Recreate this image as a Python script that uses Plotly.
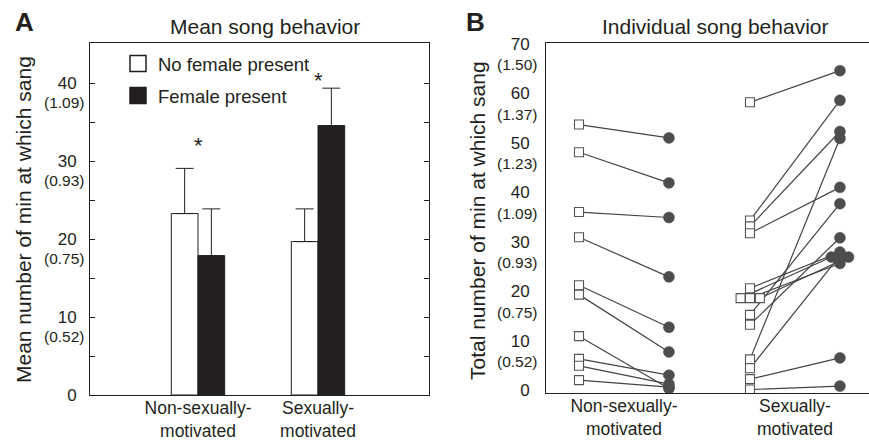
import plotly.graph_objects as go

# ---------------- data ----------------
categories = ["Non-sexually-<br>motivated", "Sexually-<br>motivated"]
mean_no_female = [23.3, 19.7]
err_no_female = [5.8, 4.2]
mean_female = [17.9, 34.6]
err_female = [6.0, 4.8]
star_y = [32.7, 41.0]

a_tick_vals = [0, 5, 10, 15, 20, 25, 30, 35, 40]
a_tick_text = ["0", "", "10", "", "20", "", "30", "", "40"]
a_paren_vals = [10, 20, 30, 40]
a_paren_text = ["(0.52)", "(0.75)", "(0.93)", "(1.09)"]

b_tick_vals = [0, 10, 20, 30, 40, 50, 60, 70]
b_paren_vals = [10, 20, 30, 40, 50, 60, 70]
b_paren_text = ["(0.52)", "(0.75)", "(0.93)", "(1.09)", "(1.23)", "(1.37)", "(1.50)"]

# individual birds: no female (square) -> female present (circle)
ns_no_female = [53.7, 48.1, 36.0, 30.9, 21.2, 19.3, 10.9, 6.3, 4.9, 2.0]
ns_female = [51.0, 41.9, 34.9, 22.9, 12.7, 7.7, 0.3, 3.0, 1.2, 0.6]
s_no_female = [58.2, 34.3, 33.1, 31.7, 20.6, 18.6, 18.6, 18.6, 15.2, 13.2, 6.2, 4.4, 2.2, 0.1]
s_female = [64.6, 58.6, 52.3, 41.0, 27.9, 26.9, 25.6, 26.9, 37.7, 30.8, 50.9, 27.2, 6.5, 0.8]
s_sq_jitter = [0, 0, 0, 0, 0, -0.055, 0, 0.058, 0, 0, 0, 0, 0, 0]
s_ci_jitter = [0, 0, 0, 0, 0, -0.05, 0, 0.05, 0, 0, 0, 0, 0, 0]

# ---------------- styling ----------------
W, H = 869, 443
FONT = "Liberation Sans, Arial, sans-serif"
INK = "#231f20"
GREY = "#4d4d4d"

fig = go.Figure()

groups = [1, 2]

# Panel A bars
fig.add_trace(go.Bar(
    x=groups, y=mean_no_female, name="No female present", legendgroup="a",
    marker=dict(color="white", line=dict(color=INK, width=1)),
    error_y=dict(type="data", symmetric=False, array=err_no_female,
                 arrayminus=[0] * len(err_no_female), color=INK, thickness=1, width=9),
    xaxis="x", yaxis="y", showlegend=False))
fig.add_trace(go.Bar(
    x=groups, y=mean_female, name="Female present", legendgroup="b",
    marker=dict(color=INK, line=dict(color=INK, width=1)),
    error_y=dict(type="data", symmetric=False, array=err_female,
                 arrayminus=[0] * len(err_female), color=INK, thickness=1, width=9),
    xaxis="x", yaxis="y", showlegend=False))
# legend proxies with larger swatches
fig.add_trace(go.Scatter(x=[None], y=[None], mode="markers", name="No female present",
                         legendgroup="a", xaxis="x", yaxis="y",
                         marker=dict(symbol="square", size=16, color="white",
                                     line=dict(color=INK, width=1.5))))
fig.add_trace(go.Scatter(x=[None], y=[None], mode="markers", name="Female present",
                         legendgroup="b", xaxis="x", yaxis="y",
                         marker=dict(symbol="square", size=16, color=INK,
                                     line=dict(color=INK, width=1.5))))

# Panel B
SQ_OFF, CI_OFF = -0.263, 0.263
sq_x, sq_y, ci_x, ci_y, lx, ly = [], [], [], [], [], []
for g, pre, post, js, jc in [
    (1, ns_no_female, ns_female, [0] * len(ns_no_female), [0] * len(ns_female)),
    (2, s_no_female, s_female, s_sq_jitter, s_ci_jitter),
]:
    for a, b, ja, jb in zip(pre, post, js, jc):
        xa, xb = g + SQ_OFF + ja, g + CI_OFF + jb
        sq_x.append(xa); sq_y.append(a)
        ci_x.append(xb); ci_y.append(b)
        lx += [xa, xb, None]; ly += [a, b, None]

fig.add_trace(go.Scatter(x=lx, y=ly, mode="lines", line=dict(color="#444444", width=1.2),
                         xaxis="x2", yaxis="y2", showlegend=False, hoverinfo="skip"))
fig.add_trace(go.Scatter(x=ci_x, y=ci_y, mode="markers", name="Female present",
                         marker=dict(symbol="circle", size=11, color=GREY,
                                     line=dict(color=GREY, width=0.5)),
                         xaxis="x2", yaxis="y2", showlegend=False))
fig.add_trace(go.Scatter(x=sq_x, y=sq_y, mode="markers", name="No female present",
                         marker=dict(symbol="square", size=9, color="white",
                                     line=dict(color="#555555", width=1.1)),
                         xaxis="x2", yaxis="y2", showlegend=False))

axA_x = [90 / W, 429 / W]
axA_y = [1 - 395 / H, 1 - 43 / H]
axB_x = [546 / W, 1.0]
axB_y = [1 - 393 / H, 1 - 43 / H]

tickfont = dict(family=FONT, size=17, color=INK)
catfont = dict(family=FONT, size=17.5, color=INK)

fig.update_layout(
    width=W, height=H, margin=dict(l=0, r=0, t=0, b=0),
    paper_bgcolor="white", plot_bgcolor="white",
    barmode="group", bargap=0.555, bargroupgap=0,
    font=dict(family=FONT, color=INK),
    xaxis=dict(domain=axA_x, anchor="y", range=[0.1, 2.925], tickvals=groups,
               ticktext=categories, ticks="", showline=True, linecolor=INK, linewidth=1,
               mirror=True, showgrid=False, zeroline=False, tickfont=catfont,
               ticklabelstandoff=-3, automargin=False),
    xaxis3=dict(overlaying="x", anchor="y", side="top", range=[0.1, 2.925],
                tick0=0.475, dtick=0.7, ticks="inside", ticklen=5, tickcolor=INK,
                showticklabels=False, showline=False, showgrid=False, zeroline=False),
    yaxis=dict(domain=axA_y, anchor="x", range=[0, 45.2], tickvals=a_tick_vals,
               ticktext=a_tick_text, ticks="inside", ticklen=5, tickcolor=INK,
               showline=True, linecolor=INK, linewidth=1, mirror="ticks",
               showgrid=False, zeroline=False, tickfont=tickfont, ticklabelstandoff=9,
               automargin=False),
    xaxis2=dict(domain=axB_x, anchor="y2", range=[0.544, 2.433], tickvals=groups,
                ticktext=categories, ticks="", showline=True, linecolor=INK, linewidth=1,
                mirror=True, showgrid=False, zeroline=False, tickfont=catfont,
                ticklabelstandoff=-3, automargin=False),
    yaxis2=dict(domain=axB_y, anchor="x2", range=[-0.6, 70.2], tickvals=b_tick_vals,
                ticks="", showline=True, linecolor=INK, linewidth=1, mirror=False,
                showgrid=False, zeroline=False, tickfont=tickfont, ticklabelstandoff=12,
                automargin=False),
    legend=dict(x=118 / W, y=1 - 45 / H, xanchor="left", yanchor="top",
                font=dict(family=FONT, size=18.5, color=INK), bgcolor="rgba(0,0,0,0)",
                tracegroupgap=5, itemclick=False),
    showlegend=True,
)

ann = []
def paper_text(text, px, py, size, bold=False, angle=0):
    return dict(text=f"<b>{text}</b>" if bold else text, x=px / W, y=1 - py / H,
                xref="paper", yref="paper", xanchor="center", yanchor="middle",
                textangle=angle, showarrow=False,
                font=dict(family=FONT, size=size, color=INK))

ann.append(paper_text("A", 24, 22, 26, bold=True))
ann.append(paper_text("B", 476, 22, 26, bold=True))
ann.append(paper_text("Mean song behavior", 265, 27, 21))
ann.append(paper_text("Individual song behavior", 715, 27, 21))
ann.append(paper_text("Mean number of min at which sang", 24, 220, 21, angle=-90))
ann.append(paper_text("Total number of min at which sang", 478, 220, 21, angle=-90))
# parenthesised secondary tick labels
for v, t in zip(a_paren_vals, a_paren_text):
    ann.append(dict(text=t, x=0, xref="x domain", y=v, yref="y", xanchor="right",
                    yanchor="middle", xshift=-3, yshift=-19, showarrow=False,
                    font=dict(family=FONT, size=15.5, color=INK)))
for v, t in zip(b_paren_vals, b_paren_text):
    ann.append(dict(text=t, x=0, xref="x2 domain", y=v, yref="y2", xanchor="right",
                    yanchor="middle", xshift=-6, yshift=-21, showarrow=False,
                    font=dict(family=FONT, size=15.5, color=INK)))
# significance stars
for g, sy in zip(groups, star_y):
    ann.append(dict(text="*", x=g, y=sy, xref="x", yref="y", showarrow=False,
                    xanchor="center", yanchor="middle", yshift=-5,
                    font=dict(family=FONT, size=22, color=INK)))
fig.update_layout(annotations=ann)

fig.write_html("out.html", config={"displayModeBar": False},
               post_script="document.body.style.margin='0';document.body.style.overflow='hidden';")
